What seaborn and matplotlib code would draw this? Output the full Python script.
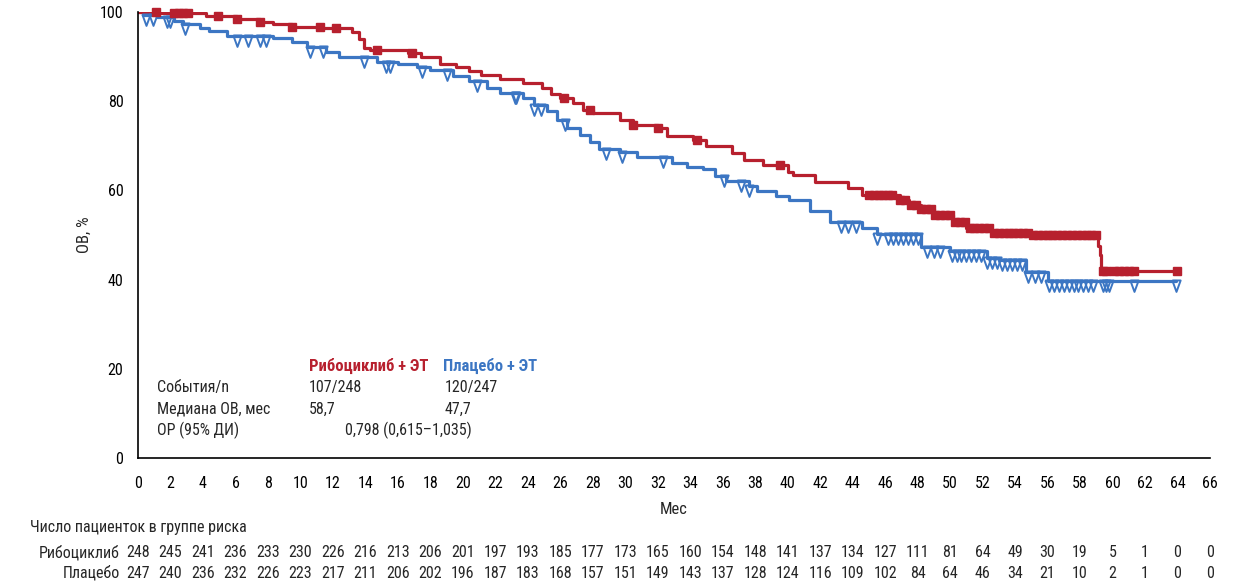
import numpy as np
import pandas as pd
import matplotlib
matplotlib.use('Agg')
import matplotlib.pyplot as plt
from matplotlib import font_manager
import seaborn as sns

# Kaplan-Meier curves, step-post knots
ribo_t = [0, 1.2, 4.2, 6.1, 7.5, 8.3, 9.5, 11.4, 13.2, 13.6, 13.9, 14.3, 16.6, 17.4, 18.6,
          19.6, 20.4, 21.1, 22.3, 23.7, 24.9, 25.4, 26.0, 26.8, 27.4, 28.0, 29.7, 30.5, 32.0,
          32.6, 34.2, 35.0, 36.6, 37.3, 38.5, 40.0, 40.3, 41.7, 43.7, 44.6, 46.9, 47.5, 48.2,
          49.0, 50.2, 51.0, 52.5, 54.9, 59.1, 59.2, 59.3, 64.0]
ribo_s = [100, 99.8, 99.0, 98.4, 97.8, 97.2, 96.7, 96.3, 95.6, 94.0, 92.0, 91.5, 90.7, 89.8, 88.3,
          87.6, 86.8, 85.9, 84.9, 84.0, 82.9, 81.6, 80.6, 79.7, 78.0, 77.3, 75.8, 74.7, 73.9,
          72.2, 71.3, 70.0, 68.3, 66.8, 65.7, 64.2, 63.5, 61.8, 60.5, 59.0, 57.8, 56.7, 55.8,
          54.5, 53.0, 51.5, 50.5, 50.0, 47.5, 45.5, 42.0, 42.0]
ribo_cens = [1.1, 2.2, 2.5, 2.8, 3.1, 4.9, 6.1, 7.5, 9.5, 11.2, 12.2, 14.7, 16.9, 26.2, 27.8,
             30.5, 32.0, 34.4, 39.5, 45.0, 45.3, 45.6, 45.9, 46.2, 46.4, 46.9, 47.2, 47.6, 47.9,
             48.2, 48.5, 48.8, 49.1, 49.4, 49.7, 50.0, 50.3, 50.6, 50.9, 51.2, 51.5, 51.8, 52.1,
             52.4, 52.7, 53.0, 53.3, 53.6, 53.9, 54.2, 54.5, 54.8, 55.1, 55.4, 55.7, 56.0, 56.3,
             56.6, 56.9, 57.2, 57.5, 57.8, 58.1, 58.4, 58.7, 59.0, 59.4, 59.6, 60.1, 60.4, 60.7,
             61.0, 61.3, 64.0]

plac_t = [0, 0.3, 1.2, 2.2, 2.8, 3.8, 4.4, 5.5, 8.3, 9.5, 10.4, 11.6, 12.4, 14.7, 16.0, 17.2,
          18.0, 19.4, 20.4, 21.5, 22.3, 23.7, 24.4, 25.2, 25.8, 26.4, 27.2, 27.8, 28.4, 29.7,
          30.7, 32.9, 33.8, 34.8, 35.5, 36.2, 37.6, 38.1, 39.3, 40.1, 41.4, 42.6, 44.6, 45.5,
          48.2, 50.0, 52.3, 53.1, 54.7, 56.0, 63.9]
plac_s = [100, 99.3, 98.8, 98.0, 97.2, 96.5, 95.7, 94.7, 94.1, 93.2, 92.2, 91.1, 89.8, 88.8, 88.3,
          87.6, 87.0, 85.7, 84.5, 82.9, 81.8, 80.6, 79.1, 77.7, 75.8, 73.9, 72.4, 70.9, 69.2,
          68.5, 67.4, 66.2, 65.3, 64.7, 63.2, 62.2, 60.9, 59.8, 58.7, 57.8, 55.3, 52.8, 51.5,
          50.3, 47.4, 46.3, 44.8, 44.3, 41.6, 39.6, 39.6]
plac_cens = [0.5, 0.9, 1.8, 2.0, 2.9, 6.1, 6.8, 7.5, 7.9, 10.6, 11.4, 13.9, 15.3, 15.5, 17.5,
             19.0, 20.9, 23.2, 23.3, 24.4, 24.8, 26.3, 28.8, 29.8, 32.3, 36.1, 37.1, 37.6, 43.3,
             43.7, 44.2, 45.5, 46.2, 46.5, 46.8, 47.1, 47.4, 47.7, 48.0, 48.6, 49.0, 49.4, 50.1,
             50.4, 50.7, 51.0, 51.3, 51.6, 51.9, 52.3, 52.6, 52.9, 53.2, 53.5, 53.8, 54.1, 54.4,
             54.8, 55.2, 55.6, 56.1, 56.4, 56.7, 57.0, 57.3, 57.6, 57.9, 58.2, 58.5, 58.8, 59.4,
             59.6, 59.8, 61.3, 63.9]

risk_months = list(range(0, 67, 2))
ribo_risk = [248, 245, 241, 236, 233, 230, 226, 216, 213, 206, 201, 197, 193, 185, 177, 173, 165,
             160, 154, 148, 141, 137, 134, 127, 111, 81, 64, 49, 30, 19, 5, 1, 0, 0]
plac_risk = [247, 240, 236, 232, 226, 223, 217, 211, 206, 202, 196, 187, 183, 168, 157, 151, 149,
             143, 137, 128, 124, 116, 109, 102, 84, 64, 46, 34, 21, 10, 2, 1, 0, 0]

RED = '#B7202E'
BLUE = '#3C76C3'

sns.set_style('white')
names = {f.name for f in font_manager.fontManager.ttflist}
fam = [f for f in ['Liberation Sans Narrow', 'Roboto Condensed', 'Open Sans Condensed'] if f in names]
plt.rcParams['font.family'] = fam + ['DejaVu Sans']


def step_at(times, surv, t):
    idx = np.searchsorted(times, t, side='right') - 1
    return np.asarray(surv)[idx]


curves = pd.concat([
    pd.DataFrame({'t': ribo_t, 's': ribo_s, 'arm': 'ribo'}),
    pd.DataFrame({'t': plac_t, 's': plac_s, 'arm': 'plac'}),
])
cens_r = pd.DataFrame({'t': ribo_cens, 's': step_at(ribo_t, ribo_s, ribo_cens)})
cens_p = pd.DataFrame({'t': plac_cens, 's': step_at(plac_t, plac_s, plac_cens)})

# hanging open triangle: top edge sits on the curve
hang_v = [(-0.6, 0.15), (0.6, 0.15), (0, -1.5), (-0.6, 0.15)]

fig = plt.figure(figsize=(12.42, 5.84), dpi=100)
ax = fig.add_axes([0.1111, 0.2158, 0.8631, 0.7637])

sns.lineplot(data=curves[curves.arm == 'plac'], x='t', y='s', color=BLUE, lw=2.3,
             drawstyle='steps-post', ax=ax, estimator=None)
sns.lineplot(data=curves[curves.arm == 'ribo'], x='t', y='s', color=RED, lw=2.3,
             drawstyle='steps-post', ax=ax, estimator=None)
ax.plot(cens_p.t, cens_p.s, ls='none', marker=hang_v, ms=15, mfc='none', mec=BLUE, mew=1.4,
        clip_on=False)
ax.plot(cens_r.t, cens_r.s, ls='none', marker='s', ms=5.8, color=RED, clip_on=False)

ax.set_xlim(0, 66)
ax.set_ylim(0, 100)
ax.set_xticks(risk_months)
ax.set_yticks([0, 20, 40, 60, 80, 100])
for s in ['top', 'right']:
    ax.spines[s].set_visible(False)
for s in ['left', 'bottom']:
    ax.spines[s].set_color('black')
    ax.spines[s].set_linewidth(1.2)
ax.tick_params(axis='both', direction='out', length=7, width=1.2, color='black',
               labelsize=11.5, colors='black')
ax.tick_params(axis='x', pad=6)
ax.set_xlabel('Мес', fontsize=12, labelpad=8)
ax.set_ylabel('ОВ, %', fontsize=12, labelpad=6)

# summary box
fs = 11.5
ax.text(10.5, 20.6, 'Рибоциклиб + ЭТ', color=RED, fontsize=12, fontweight='bold', va='center')
ax.text(18.8, 20.6, 'Плацебо + ЭТ', color=BLUE, fontsize=12, fontweight='bold', va='center')
ax.text(1.15, 15.7, 'События/n', fontsize=fs, va='center')
ax.text(10.5, 15.7, '107/248', fontsize=fs, va='center')
ax.text(18.9, 15.7, '120/247', fontsize=fs, va='center')
ax.text(1.15, 11.0, 'Медиана ОВ, мес', fontsize=fs, va='center')
ax.text(10.5, 11.0, '58,7', fontsize=fs, va='center')
ax.text(18.9, 11.0, '47,7', fontsize=fs, va='center')
ax.text(1.15, 6.1, 'ОР (95% ДИ)', fontsize=fs, va='center')
ax.text(12.75, 6.1, '0,798 (0,615–1,035)', fontsize=fs, va='center')

# number at risk
ax.text(-6.65, -15.7, 'Число пациенток в группе риска', fontsize=fs, va='center', clip_on=False)
ax.text(-1.1, -21.3, 'Рибоциклиб', fontsize=fs, va='center', ha='right', clip_on=False)
ax.text(-1.1, -25.8, 'Плацебо', fontsize=fs, va='center', ha='right', clip_on=False)
for m, r, p in zip(risk_months, ribo_risk, plac_risk):
    ax.text(m, -21.3, str(r), fontsize=fs, va='center', ha='center', clip_on=False)
    ax.text(m, -25.8, str(p), fontsize=fs, va='center', ha='center', clip_on=False)

fig.savefig('out.png', dpi=100)
